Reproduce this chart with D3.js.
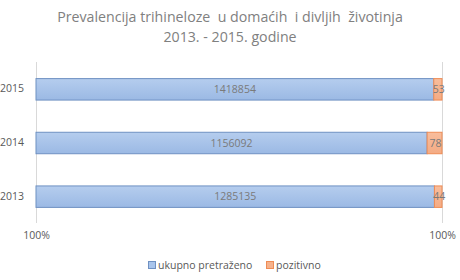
<!DOCTYPE html>
<html><head><meta charset="utf-8">
<script src="https://cdn.jsdelivr.net/npm/d3@7/dist/d3.min.js"></script>
<style>body{margin:0;background:#fff;}svg{display:block;font-family:"Open Sans",sans-serif;}text{white-space:pre;}</style>
</head><body>
<svg id="c" width="460" height="280"></svg>
<script>
const categories = ["2015", "2014", "2013"];
const seriesNames = ["ukupno pretraženo", "pozitivno"];
const examined = [1418854, 1156092, 1285135];
const positive = [53, 78, 44];
const xTicks = [0.99816, 1.0];
const titleLines = ["Prevalencija trihineloze  u domaćih  i divljih  životinja", "2013. - 2015. godine"];

(function(){
const svg = d3.select("#c");
const defs = svg.append("defs");
const g1 = defs.append("linearGradient").attr("id","gb").attr("x1",0).attr("y1",0).attr("x2",0).attr("y2",1);
g1.append("stop").attr("offset","0").attr("stop-color","#b5cdee");
g1.append("stop").attr("offset","1").attr("stop-color","#9bb9e4");
const g2 = defs.append("linearGradient").attr("id","go").attr("x1",0).attr("y1",0).attr("x2",0).attr("y2",1);
g2.append("stop").attr("offset","0").attr("stop-color","#f8bd9c");
g2.append("stop").attr("offset","1").attr("stop-color","#f4ab84");

const pl = 36, pr = 442, pt = 62, pb = 223;
const rows = categories.map((c,i)=>{
  const tot = examined[i] + positive[i];
  return {cat:c, a:examined[i], b:positive[i], fa:examined[i]/tot};
});
const x = d3.scaleLinear().domain([xTicks[0], xTicks[1]]).range([pl, pr]).clamp(true);
const y = d3.scaleBand().domain(categories).range([pt, pb]).paddingInner(0.6).paddingOuter(0.3);

// title
svg.append("g").selectAll("text").data(titleLines).join("text")
  .attr("x",230).attr("y",(d,i)=>22+i*20).attr("text-anchor","middle")
  .attr("font-size",14.2).attr("fill","#808080").text(d=>d);

// gridlines
svg.append("g").selectAll("line").data(xTicks).join("line")
  .attr("x1",d=>Math.round(x(d))+0.5).attr("x2",d=>Math.round(x(d))+0.5)
  .attr("y1",pt).attr("y2",pb).attr("stroke","#d9d9d9").attr("stroke-width",1);

// x axis labels
const xAxis = d3.axisBottom(x).tickValues(xTicks).tickFormat(d3.format(".0%")).tickSize(0);
const xg = svg.append("g").attr("transform",`translate(0,${pb+6})`).call(xAxis);
xg.select(".domain").remove();
xg.selectAll("text").attr("font-size",10.5).attr("fill","#595959").attr("font-family","Open Sans, sans-serif");

// y axis labels
const yAxis = d3.axisLeft(y).tickSize(0).tickPadding(0);
const yg = svg.append("g").attr("transform",`translate(${24},0)`).call(yAxis);
yg.select(".domain").remove();
yg.selectAll("text").attr("font-size",10.5).attr("fill","#595959").attr("font-family","Open Sans, sans-serif");

// bars
const bars = svg.append("g");
bars.selectAll("rect.a").data(rows).join("rect").attr("class","a")
  .attr("x",x(xTicks[0])).attr("y",d=>y(d.cat)+0.5)
  .attr("width",d=>x(d.fa)-x(xTicks[0])).attr("height",y.bandwidth())
  .attr("fill","url(#gb)").attr("stroke","#6f91c2").attr("stroke-width",1);
bars.selectAll("rect.b").data(rows).join("rect").attr("class","b")
  .attr("x",d=>x(d.fa)).attr("y",d=>y(d.cat)+0.5)
  .attr("width",d=>x(1)-x(d.fa)).attr("height",y.bandwidth())
  .attr("fill","url(#go)").attr("stroke","#ef8c55").attr("stroke-width",1);

// labels
const lab = svg.append("g").attr("font-size",10.5).attr("fill","#7a7a7a").attr("text-anchor","middle");
lab.selectAll("text.a").data(rows).join("text").attr("class","a")
  .attr("x",d=>(x(xTicks[0])+x(d.fa))/2).attr("y",d=>y(d.cat)+y.bandwidth()/2+4)
  .text(d=>d.a);
lab.selectAll("text.b").data(rows).join("text").attr("class","b")
  .attr("x",d=>(x(d.fa)+x(1))/2+1).attr("y",d=>y(d.cat)+y.bandwidth()/2+4)
  .text(d=>d.b);

// legend
const legX = [148, 266];
const lg = svg.append("g");
seriesNames.forEach((s,i)=>{
  lg.append("rect").attr("x",legX[i]+0.5).attr("y",261.5).attr("width",7).attr("height",7)
    .attr("fill",i?"#f6b28c":"#a9c5ec").attr("stroke",i?"#ef8c55":"#6f91c2");
  lg.append("text").attr("x",legX[i]+10).attr("y",268.5).attr("font-size",10.5).attr("fill","#595959").text(s);
});
})();
</script>
</body></html>
